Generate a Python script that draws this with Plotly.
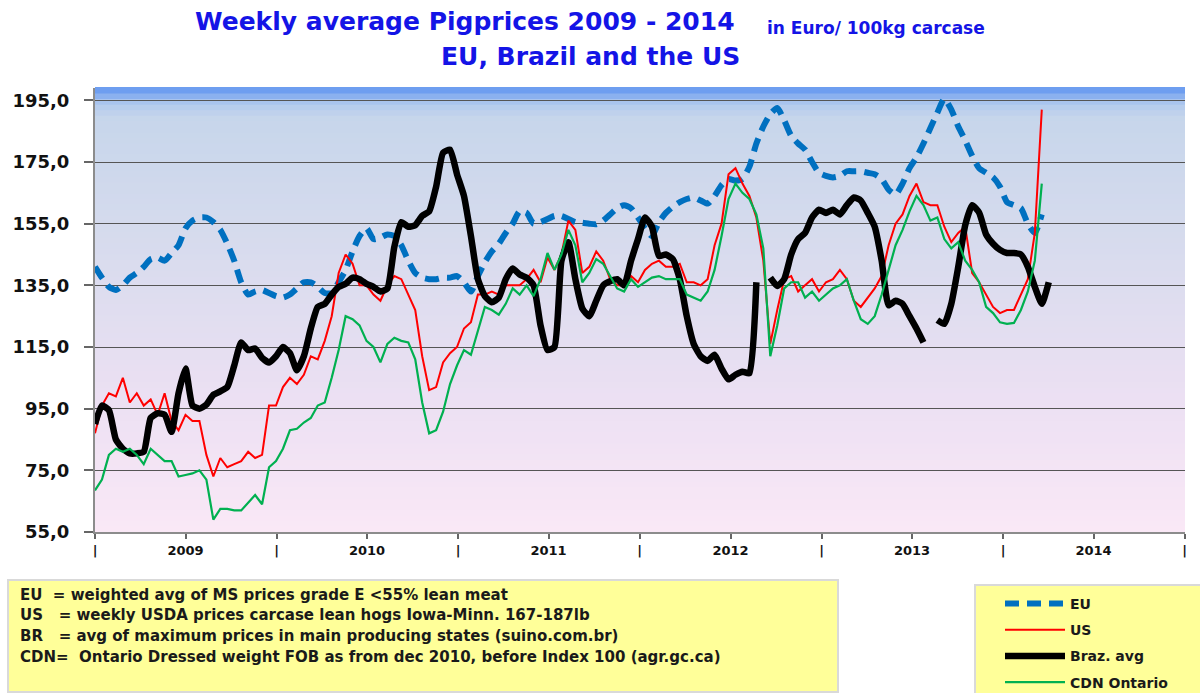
import pandas as pd
import plotly.graph_objects as go

# ---------------- data (bi-weekly readings, start 2009-01-01) ----------------
START_DATE = "2009-01-01"
STEP = "14D"

EU = [141, 137.5, 134.5, 133.5, 135, 137.5, 139, 141, 143.5, 144, 143, 145.5, 148, 153.5, 156, 157, 157, 155.5, 153, 148.5,
      143, 136, 132, 133, 133.5, 132.5, 131.5, 131, 132, 134, 136, 136, 134.5, 132.5, 132.5, 136, 140, 146, 151, 153.5,
      150, 150.5, 151.5, 151, 148, 143, 139, 137.5, 137, 137, 137.5, 137.5, 138, 136, 133, 138, 142.5, 146, 148.5, 152,
      155, 159, 158.5, 155, 155.5, 156.5, 157.5, 157.5, 156.5, 155.5, 155.3, 155, 154.8, 156, 158, 160, 161, 160, 157,
      153.5, 151, 155.5, 158.5, 160.5, 162, 163, 163.5, 162.5, 161.5, 164, 167.5, 169.5, 169, 169.5, 173.5, 181, 186.5,
      190.5, 192.5, 188.5, 183.5, 181, 179, 175, 171.5, 170.5, 170, 170.5, 172, 172, 172, 171.5, 171, 169.5, 166, 164.5,
      168, 173, 176.5, 181, 186, 191, 195.5, 192, 186.5, 182, 177, 173, 171.5, 170, 167, 162, 161, 160, 155, 152, 158]

US = [87, 96, 100, 99, 105, 97, 100, 96, 98, 93, 100, 91, 88, 93, 91, 91, 80, 73, 79, 76,
      77, 78, 81, 79, 80, 96, 96, 102, 105, 103, 106, 112, 111, 117, 125, 139, 145, 142, 135, 135,
      132, 130, 135, 138, 137, 132, 127, 112, 101, 102, 110, 113, 115, 121, 123, 132, 132, 133, 132, 135,
      135, 135, 137, 140, 136, 144, 140, 145, 156, 153, 139, 141, 146, 143, 137, 135, 135, 138, 136,
      140, 142, 143, 141, 141, 142, 136, 136, 135, 137, 148, 155, 171, 173, 168, 164, 157, 143, 116,
      127, 137, 138, 133, 135, 137, 133, 136, 137, 140, 137, 130, 128, 131, 134, 138, 148, 155,
      158, 164, 168, 162, 161, 161, 154, 149, 152, 154, 139, 136, 132, 128, 126, 127, 127, 132, 137, 152, 192]

BRAZIL = [90, 96, 94.5, 85, 82, 80.5, 80.5, 81, 92, 93.5, 93, 87.5, 100, 108, 96, 95, 96.3, 99.5, 100.6, 102,
          109, 116.5, 114, 114.5, 111.5, 110, 112, 115, 113, 107.5, 112, 121, 128, 129, 132, 134.5, 135.5, 137.5, 137, 135.5,
          134.5, 133, 134, 147.5, 155.5, 154, 154.5, 157.5, 159, 167, 178, 179, 171, 164, 151, 137, 131.5, 129.5, 131, 137,
          140.5, 138.5, 137.5, 135, 122, 114, 115, 143, 149, 137, 127.5, 125, 130, 135, 136.3, 137, 135, 143, 150,
          157, 154, 144.5, 145, 143.5, 137, 125, 116, 112, 110.5, 112.5, 108, 104.5, 106, 107, 106.5, 136, None,
          137.5, 134.8, 137, 145, 150, 152, 157, 159.5, 158.5, 159.5, 158, 161, 163.5, 162.5, 158.5, 154, 143, 128.5, 130,
          129, 125, 121, 116.5, None, 123.7, 122.5, 129, 141, 154.5, 161, 158.6, 151.5, 148.5, 146.5, 145.5, 145.5, 145,
          141, 134.5, 129, 136]

CDN = [68.5, 72, 80, 82, 81, 82, 80, 77, 82, 80, 78, 78, 73, 73.5, 74, 75, 72, 59, 62.5, 62.5,
       62, 62, 64.5, 67, 64, 76, 78, 82, 88, 88.5, 90.5, 92, 96, 97, 105, 114, 125, 124, 122, 117,
       115, 110, 116, 118, 117, 116.5, 111, 97, 87, 88, 94, 103, 109, 114, 112.5, 120, 128, 127, 125.5, 129,
       134, 132, 135, 131.5, 137, 145.5, 140, 145, 153, 148, 136, 139, 143.5, 142, 138, 134, 133, 137, 134.5,
       136, 137.5, 138, 137, 137, 137, 132, 131, 130, 133, 140, 151, 163, 168, 165, 163, 158, 147, 112,
       122, 134, 136, 136, 131, 133, 130, 132, 134, 135, 137, 130, 124, 122.5, 125, 132, 140, 148,
       153, 159, 164, 161, 156, 157, 150, 147, 149, 143, 140, 136, 128, 126, 123, 122.5, 122.8, 127, 133, 143, 168]

SERIES_NAMES = ["EU", "US", "Braz. avg", "CDN Ontario"]
Y_TICKS = [55, 75, 95, 115, 135, 155, 175, 195]
Y_TICK_TEXT = ["55,0", "75,0", "95,0", "115,0", "135,0", "155,0", "175,0", "195,0"]
YEARS = [2009, 2010, 2011, 2012, 2013, 2014]

TITLE_1 = "Weekly average Pigprices 2009 - 2014"
TITLE_UNIT = "in Euro/ 100kg carcase"
TITLE_2 = "EU, Brazil and the US"
NOTES = [
    "EU  = weighted avg of MS prices grade E <55% lean meat",
    "US   = weekly USDA prices carcase lean hogs Iowa-Minn. 167-187lb",
    "BR   = avg of maximum prices in main producing states (suino.com.br)",
    "CDN=  Ontario Dressed weight FOB as from dec 2010, before Index 100 (agr.gc.ca)",
]

# ---------------- layout helpers ----------------
W, H = 1200, 693
L, R, T, B = 95, 15, 88, 161
PW, PH = W - L - R, H - T - B


def px(xp):
    return (xp - L) / PW


def py(yp):
    return (H - B - yp) / PH


dates = pd.date_range(START_DATE, periods=max(len(EU), len(US), len(BRAZIL), len(CDN)), freq=STEP)

fig = go.Figure()
fig.add_trace(go.Scatter(x=dates[:len(EU)], y=EU, name=SERIES_NAMES[0], mode="lines",
                         line=dict(color="#0070c0", width=6, dash="14px,8px", shape="spline", smoothing=0.6),
                         legendgroup="a"))
fig.add_trace(go.Scatter(x=dates[:len(US)], y=US, name=SERIES_NAMES[1], mode="lines",
                         line=dict(color="#ff0000", width=2), legendgroup="b"))
fig.add_trace(go.Scatter(x=dates[:len(BRAZIL)], y=BRAZIL, name=SERIES_NAMES[2], mode="lines",
                         line=dict(color="#000000", width=6.5, shape="spline", smoothing=0.5),
                         connectgaps=False, legendgroup="c"))
fig.add_trace(go.Scatter(x=dates[:len(CDN)], y=CDN, name=SERIES_NAMES[3], mode="lines",
                         line=dict(color="#00b050", width=2.2), legendgroup="d"))

# gradient plot background (bands)
stops = [(0.0, (250, 232, 246)), (0.3, (236, 224, 243)), (0.6, (218, 220, 238)),
         (0.93, (199, 214, 235)), (0.965, (178, 202, 238)), (1.0, (95, 148, 240))]


def grad(t):
    for (t0, c0), (t1, c1) in zip(stops[:-1], stops[1:]):
        if t0 <= t <= t1:
            f = (t - t0) / (t1 - t0)
            return "rgb(%d,%d,%d)" % tuple(round(a + (b - a) * f) for a, b in zip(c0, c1))
    return "rgb(%d,%d,%d)" % stops[-1][1]


shapes = []
N = 80
for k in range(N):
    y0, y1 = k / N, (k + 1) / N
    shapes.append(dict(type="rect", xref="x domain", yref="y domain", x0=0, x1=1, y0=y0, y1=y1 + 0.002,
                       fillcolor=grad((y0 + y1) / 2), line=dict(width=0), layer="below"))

# note box and legend box
shapes.append(dict(type="rect", xref="paper", yref="paper", x0=px(8), x1=px(838), y0=py(692), y1=py(580),
                   fillcolor="#ffff99", line=dict(color="#d9d9d9", width=2), layer="above"))
shapes.append(dict(type="rect", xref="paper", yref="paper", x0=px(975), x1=px(1204), y0=py(697), y1=py(585),
                   fillcolor="#ffff99", line=dict(color="#d9d9d9", width=2), layer="above"))

annotations = []
title_font = dict(family="DejaVu Sans", size=25, color="#1414e6", weight="bold")
annotations.append(dict(text=TITLE_1, xref="paper", yref="paper", x=px(465), y=py(22), showarrow=False,
                        xanchor="center", yanchor="middle", font=title_font))
annotations.append(dict(text=TITLE_UNIT, xref="paper", yref="paper", x=px(765), y=py(28), showarrow=False,
                        xanchor="left", yanchor="middle",
                        font=dict(family="DejaVu Sans", size=17, color="#1414e6", weight="bold")))
annotations.append(dict(text=TITLE_2, xref="paper", yref="paper", x=px(590), y=py(57), showarrow=False,
                        xanchor="center", yanchor="middle", font=title_font))
for i, (line_text, yp) in enumerate(zip(NOTES, [595, 615, 636, 657])):
    annotations.append(dict(text=line_text, xref="paper", yref="paper", x=px(18), y=py(yp), showarrow=False,
                            xanchor="left", yanchor="middle",
                            font=dict(family="DejaVu Sans", size=15, color="#1a1a1a", weight="bold")))

# x axis ticks: year boundaries "|" and mid-year labels
tickvals, ticktext = [], []
for yr in YEARS:
    tickvals.append(f"{yr}-01-01")
    ticktext.append("|")
    tickvals.append(f"{yr}-07-02")
    ticktext.append(str(yr))
tickvals.append(f"{YEARS[-1] + 1}-01-01")
ticktext.append("|")

fig.update_layout(
    width=W, height=H,
    margin=dict(l=L, r=R, t=T, b=B, autoexpand=False),
    paper_bgcolor="white", plot_bgcolor="white",
    shapes=shapes, annotations=annotations,
    showlegend=True,
    legend=dict(x=px(1000), y=py(588), xanchor="left", yanchor="top", bgcolor="rgba(0,0,0,0)",
                font=dict(family="DejaVu Sans", size=14, color="#1a1a1a", weight="bold"),
                itemwidth=60, tracegroupgap=5, traceorder="grouped"),
    xaxis=dict(type="date", range=["2009-01-01", "2015-01-02"], tickmode="array", tickvals=tickvals,
               ticktext=ticktext, ticks="outside", ticklen=5, tickcolor="#666", tickwidth=1.5,
               showgrid=False, zeroline=False, showline=True, linecolor="#8c8c8c", linewidth=2,
               tickfont=dict(family="DejaVu Sans", size=13, color="#111", weight="bold")),
    yaxis=dict(range=[55, 199], tickmode="array", tickvals=Y_TICKS, ticktext=Y_TICK_TEXT,
               ticks="outside", ticklen=9, tickcolor="#666", tickwidth=1.5,
               showgrid=True, gridcolor="#555555", gridwidth=1.3, zeroline=False,
               showline=True, linecolor="#8c8c8c", linewidth=2, ticklabelstandoff=11,
               tickfont=dict(family="DejaVu Sans", size=18, color="#111", weight="bold")),
)

fig.write_html("out.html", config={"displayModeBar": False},
               post_script="document.body.style.margin='0';document.body.style.overflow='hidden';")
